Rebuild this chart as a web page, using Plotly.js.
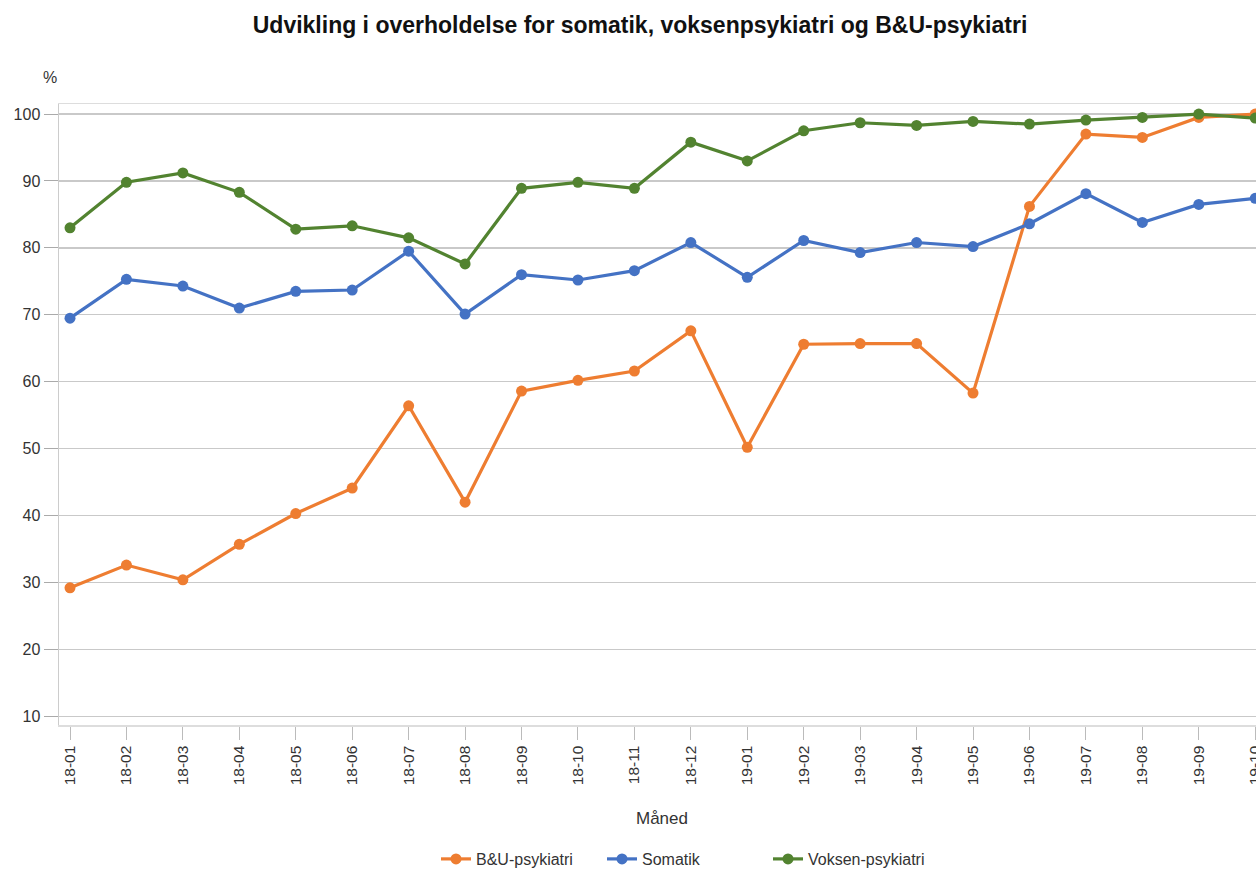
<!DOCTYPE html>
<html>
<head>
<meta charset="utf-8">
<script src="https://cdn.plot.ly/plotly-3.0.1.min.js"></script>
<style>
html,body{margin:0;padding:0;overflow:hidden;background:#fff;}
#chart{width:1280px;height:869px;}
</style>
</head>
<body>
<div id="chart"></div>
<script>
const months = ["18-01","18-02","18-03","18-04","18-05","18-06","18-07","18-08","18-09","18-10","18-11","18-12","19-01","19-02","19-03","19-04","19-05","19-06","19-07","19-08","19-09","19-10"];
const buPsykiatri = [29.2,32.6,30.4,35.7,40.3,44.1,56.4,42.0,58.6,60.2,61.6,67.6,50.2,65.6,65.7,65.7,58.3,86.2,97.0,96.5,99.5,100.0];
const somatik = [69.5,75.3,74.3,71.0,73.5,73.7,79.5,70.1,76.0,75.2,76.6,80.8,75.6,81.1,79.3,80.8,80.2,83.6,88.1,83.8,86.5,87.4];
const voksenPsykiatri = [83.0,89.8,91.2,88.3,82.8,83.3,81.5,77.6,88.9,89.8,88.9,95.8,93.0,97.5,98.7,98.3,98.9,98.5,99.1,99.5,100.0,99.4];
const seriesNames = ["B&U-psykiatri","Somatik","Voksen-psykiatri"];
const yTicks = [10,20,30,40,50,60,70,80,90,100];

const colors = ["#ee7d31","#4472c4","#528330"];
const seriesData = [buPsykiatri, somatik, voksenPsykiatri];

const traces = seriesData.map((vals, i) => ({
  type: "scatter",
  mode: "lines+markers",
  x: months,
  y: vals,
  name: seriesNames[i],
  line: {color: colors[i], width: 3.2},
  marker: {color: colors[i], size: 11},
  cliponaxis: false
}));

const font = "Liberation Sans, Arial, sans-serif";

const layout = {
  width: 1280,
  height: 869,
  margin: {l: 59, r: 18, t: 104, b: 144, autoexpand: false},
  paper_bgcolor: "#fff",
  plot_bgcolor: "#fff",
  font: {family: font, color: "#333", size: 15},
  title: {
    text: "<b>Udvikling i overholdelse for somatik, voksenpsykiatri og B&U-psykiatri</b>",
    font: {family: font, size: 23, color: "#111"},
    x: 640/1280, xref: "container", xanchor: "center",
    y: 1 - 25/869, yref: "container", yanchor: "middle"
  },
  xaxis: {
    type: "category",
    range: [-0.195, 21.12],
    tickangle: -90,
    ticks: "outside",
    ticklen: 13,
    tickcolor: "#bbb",
    tickwidth: 1,
    tickfont: {family: font, size: 15.5, color: "#333"},
    showgrid: false,
    showline: true,
    linecolor: "#ddd",
    linewidth: 1.5,
    mirror: true,
    zeroline: false,
    automargin: false,
    fixedrange: true
  },
  yaxis: {
    range: [8.7, 101.5],
    tickvals: yTicks,
    ticktext: yTicks.map(String),
    ticks: "outside",
    ticklen: 14,
    tickcolor: "#aaa",
    tickwidth: 1,
    tickfont: {family: font, size: 16, color: "#333"},
    showgrid: true,
    gridcolor: "#c9c9c9",
    gridwidth: 1.3,
    showline: true,
    linecolor: "#ccc",
    linewidth: 1.5,
    mirror: true,
    zeroline: false,
    automargin: false,
    fixedrange: true
  },
  showlegend: true,
  legend: {
    orientation: "h",
    xref: "container",
    yref: "container",
    x: 436 / 1280,
    xanchor: "left",
    y: 1 - 859 / 869,
    yanchor: "middle",
    font: {family: font, size: 16, color: "#333"},
    entrywidth: 121,
    entrywidthmode: "pixels",
    itemwidth: 30
  },
  annotations: [
    {
      text: "%",
      xref: "paper", yref: "paper",
      x: (50 - 59) / 1203, y: (725 - 77) / 621,
      xanchor: "center", yanchor: "middle",
      showarrow: false,
      font: {family: font, size: 16, color: "#333"}
    },
    {
      text: "Måned",
      xref: "paper", yref: "paper",
      x: (662 - 59) / 1203, y: (725 - 818) / 621,
      xanchor: "center", yanchor: "middle",
      showarrow: false,
      font: {family: font, size: 17, color: "#333"}
    }
  ]
};

Plotly.newPlot("chart", traces, layout, {displayModeBar: false, staticPlot: true});
</script>
</body>
</html>
